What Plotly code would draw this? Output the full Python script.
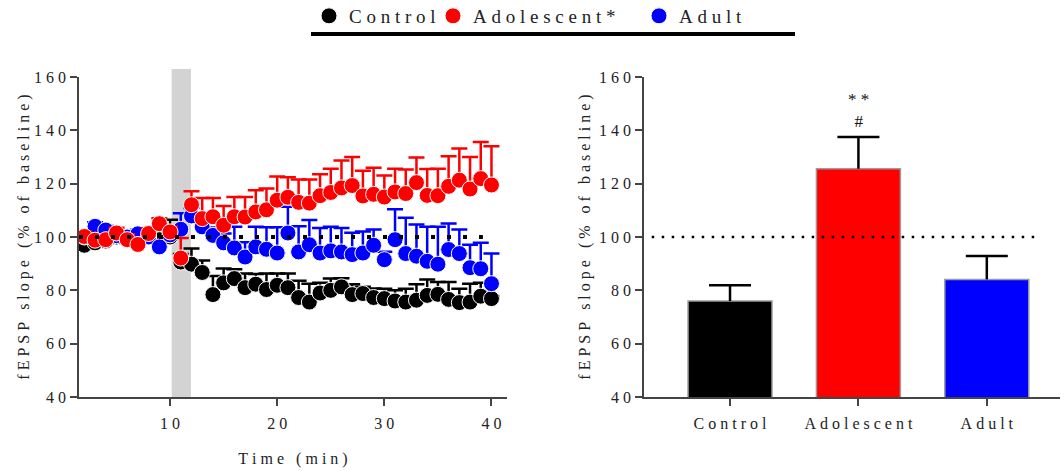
import plotly.graph_objects as go

FONT = "Liberation Serif"

def spaced(s, gap="\u00a0", wordgap="\u00a0\u00a0\u00a0"):
    return wordgap.join(gap.join(w) for w in s.split(" "))

# ---------------- time-course data (left panel) ----------------
time_min = list(range(2, 41))

control_mean = [96.9, 97.8, 98.5, 100.0, 99.5, 100.5, 101.5, 99.0, 100.0, 90.6,
                89.8, 86.7, 78.4, 82.8, 84.4, 81.0, 82.3, 80.3, 81.9, 81.0,
                77.3, 75.6, 79.0, 80.0, 81.3, 78.4, 78.8, 77.3, 76.9, 76.0,
                75.6, 76.3, 78.1, 78.5, 76.6, 75.4, 75.6, 77.8, 76.9]
control_sem = [1.5, 1.5, 1.5, 1.5, 1.5, 1.5, 1.5, 1.5, 6.5, 3.0,
               5.9, 4.5, 7.0, 5.4, 3.5, 5.3, 3.8, 6.0, 4.4, 5.3,
               6.3, 6.9, 3.8, 4.4, 3.2, 3.9, 2.5, 3.4, 3.7, 4.0,
               5.0, 6.0, 6.0, 4.6, 6.5, 5.2, 6.9, 5.0, 1.0]

adolescent_mean = [100.2, 98.8, 99.0, 101.5, 99.0, 97.2, 101.3, 105.0, 101.9, 92.1,
                   112.1, 106.9, 107.6, 104.4, 107.6, 107.5, 109.4, 110.2, 113.8, 114.9,
                   113.0, 112.7, 115.5, 116.7, 118.4, 119.3, 115.4, 116.0, 115.0, 116.9,
                   116.3, 120.4, 115.6, 115.5, 119.0, 121.3, 118.0, 121.9, 119.5]
adolescent_sem = [2.0, 2.0, 2.0, 2.0, 2.0, 2.0, 2.0, 2.0, 2.0, 7.5,
                  5.1, 7.7, 7.0, 7.2, 7.4, 7.5, 8.1, 8.0, 8.9, 7.5,
                  8.6, 8.9, 8.0, 8.9, 10.3, 10.7, 9.4, 10.0, 8.1, 8.7,
                  9.0, 9.4, 9.9, 10.1, 11.3, 11.9, 12.0, 13.7, 14.5]

adult_mean = [100.0, 104.0, 102.6, 100.5, 100.0, 101.2, 100.0, 96.3, 100.8, 102.9,
              107.9, 103.8, 100.6, 97.8, 95.9, 92.5, 96.3, 95.4, 94.0, 101.5,
              94.4, 97.1, 94.0, 94.8, 94.4, 93.4, 94.0, 96.9, 91.5, 99.0,
              93.8, 92.8, 90.9, 89.8, 95.3, 93.8, 88.5, 88.1, 82.5]
adult_sem = [1.5, 1.5, 1.5, 1.5, 1.5, 1.5, 1.5, 1.5, 1.5, 6.0,
             3.0, 3.0, 3.0, 3.5, 7.9, 5.5, 7.5, 8.3, 9.7, 9.8,
             9.6, 9.3, 9.4, 9.0, 9.0, 8.2, 8.1, 5.9, 3.0, 11.4,
             13.4, 11.9, 12.9, 14.0, 9.8, 9.0, 8.6, 9.7, 11.3]

# ---------------- summary data (right panel) ----------------
groups = ["Control", "Adolescent", "Adult"]
group_mean = [76.0, 125.6, 84.1]
group_sem = [5.9, 11.9, 8.8]
significance = {"Adolescent": "*\u00a0*<br>#"}

legend_names = ["Control", "Adolescent*", "Adult"]
colors = ["#000000", "#ff0000", "#0000ff"]

y_ticks = [40, 60, 80, 100, 120, 140, 160]
x_ticks = [10, 20, 30, 40]
stim_window = [10.15, 11.95]

W, H = 1064, 471
fig = go.Figure()

series = {0: (control_mean, control_sem), 2: (adult_mean, adult_sem), 1: (adolescent_mean, adolescent_sem)}
legend_ids = ["legend", "legend2", "legend3"]
for idx in [0, 2, 1]:
    mean, sem = series[idx]
    fig.add_trace(go.Scatter(
        x=time_min, y=mean, mode="markers", name=spaced(legend_names[idx]),
        marker=dict(size=16, color=colors[idx], line=dict(color="white", width=1)),
        error_y=dict(type="data", array=sem, arrayminus=[0] * len(sem), symmetric=False,
                     color=colors[idx], thickness=2.5, width=8),
        xaxis="x", yaxis="y", legend=legend_ids[idx],
    ))

# bars
fig.add_trace(go.Bar(
    x=groups, y=group_mean, width=0.654,
    marker=dict(color=colors, line=dict(color="#9a9a9a", width=1.5)),
    xaxis="x2", yaxis="y2", showlegend=False,
))

# one-sided error bars for bars (stems + caps)
stem_x, stem_y = [], []
for g, m, s in zip(groups, group_mean, group_sem):
    stem_x += [g, g, None]
    stem_y += [m, m + s, None]
fig.add_trace(go.Scatter(x=stem_x, y=stem_y, mode="lines", line=dict(color="black", width=2.5),
                         xaxis="x2", yaxis="y2", showlegend=False, hoverinfo="skip"))
fig.add_trace(go.Scatter(x=groups, y=[m + s for m, s in zip(group_mean, group_sem)], mode="markers",
                         marker=dict(symbol="line-ew", size=30, line=dict(color="black", width=2.5)),
                         xaxis="x2", yaxis="y2", showlegend=False, hoverinfo="skip"))

tickfont = dict(family=FONT, size=16, color="#222")
titlefont = dict(family=FONT, size=16, color="#222")
axcommon = dict(showgrid=False, zeroline=False, showline=True, linecolor="#444", linewidth=1.5,
                ticks="outside", ticklen=7, tickwidth=1.5, tickcolor="#444", tickfont=tickfont,
                automargin=False)

ydom = [(H - 397) / H, (H - 77) / H]
legfont = dict(family=FONT, size=19, color="#222")
legcommon = dict(orientation="h", yref="paper", y=(H - 16) / H, yanchor="middle", xanchor="left",
                 font=legfont, bgcolor="rgba(0,0,0,0)", itemclick=False, itemdoubleclick=False)

fig.update_layout(
    width=W, height=H,
    margin=dict(l=0, r=0, t=0, b=0, autoexpand=False),
    paper_bgcolor="white", plot_bgcolor="white",
    font=dict(family=FONT, color="#222"),
    xaxis=dict(domain=[79 / W, 507 / W], range=[1.5, 41.45], anchor="y",
               tickvals=x_ticks, ticktext=[spaced(str(v)) for v in x_ticks],
               ticklabelstandoff=4,
               title=dict(text=spaced("Time (min)"), font=titlefont, standoff=22),
               **axcommon),
    yaxis=dict(domain=ydom, range=[40, 160], anchor="x",
               tickvals=y_ticks, ticktext=[spaced(str(v)) for v in y_ticks],
               ticklabelstandoff=1,
               title=dict(text=spaced("fEPSP slope (% of baseline)"), font=titlefont, standoff=0),
               **axcommon),
    xaxis2=dict(domain=[644 / W, 1060 / W], range=[-0.67, 2.57], anchor="y2",
                tickvals=groups, ticktext=[spaced(g) for g in groups],
                ticklabelstandoff=4, **axcommon),
    yaxis2=dict(domain=ydom, range=[40, 160], anchor="x2",
                tickvals=y_ticks, ticktext=[spaced(str(v)) for v in y_ticks],
                ticklabelstandoff=1,
                title=dict(text=spaced("fEPSP slope (% of baseline)"), font=titlefont, standoff=4),
                **axcommon),
    legend=dict(x=309 / W, **legcommon),
    legend2=dict(x=433 / W, **legcommon),
    legend3=dict(x=639 / W, **legcommon),
    showlegend=True,
)

# stimulation window
fig.add_shape(type="rect", xref="x", yref="paper", x0=stim_window[0], x1=stim_window[1],
              y0=ydom[0], y1=(H - 69) / H, fillcolor="#d3d3d3", line=dict(width=0), layer="below")
# baseline reference lines
fig.add_shape(type="line", xref="x", yref="y", x0=1.5, x1=39.2, y0=100, y1=100,
              line=dict(color="black", width=4, dash="4px,12px"))
fig.add_shape(type="line", xref="x2", yref="y2", x0=-0.61, x1=2.42, y0=100, y1=100,
              line=dict(color="black", width=2.5, dash="2.5px,7.5px"))
# legend underline
fig.add_shape(type="line", xref="paper", yref="paper", x0=311 / W, x1=795 / W,
              y0=(H - 34) / H, y1=(H - 34) / H, line=dict(color="black", width=4))

# significance marks
for g, txt in significance.items():
    fig.add_annotation(x=g, y=147.3, xref="x2", yref="y2", text=txt, showarrow=False,
                       yanchor="middle", font=dict(family=FONT, size=17, color="#111"))

fig.write_html("out.html", post_script="document.body.style.margin='0';",
               config={"displayModeBar": False})
